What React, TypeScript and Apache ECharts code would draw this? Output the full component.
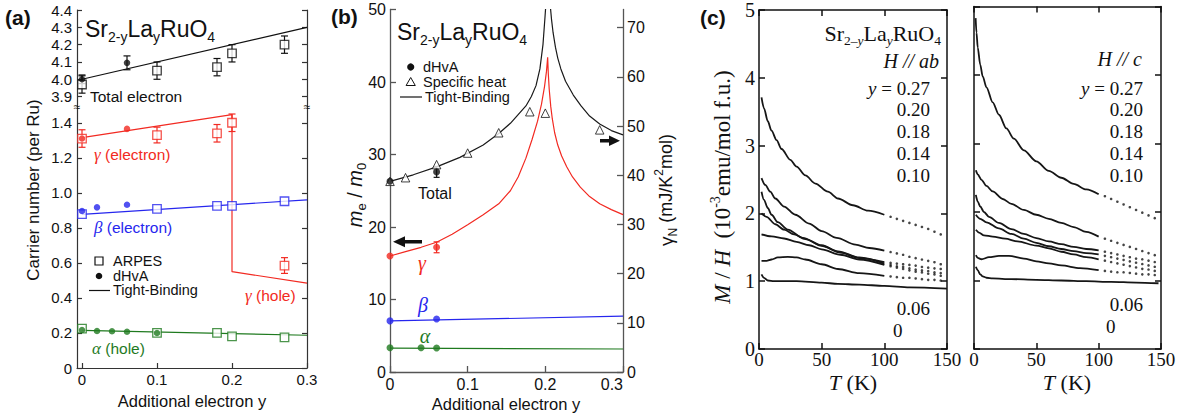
import React, { useEffect, useRef } from "react";
import * as echarts from "echarts";

const SANS = "'Liberation Sans', Arial, Helvetica, sans-serif";
const SERIF = "'Liberation Serif', 'Times New Roman', serif";
const RED = "#f22a22";
const BLUE = "#2626ee";
const GREEN = "#1f7a1f";
const INK = "#111";

// ---------- Panel (a): carrier number ----------
const aArpesX = [0, 0.1, 0.18, 0.2, 0.27];
const aTotalArpes = [3.97, 4.05, 4.07, 4.15, 4.2];
const aTotalArpesErr = [0.05, 0.05, 0.05, 0.05, 0.05];
const aTotalDhvaX = [0, 0.06];
const aTotalDhva = [4.0, 4.095];
const aTotalDhvaErr = [0.025, 0.04];
const aTotalTB = [[0, 4.0], [0.3, 4.3]];
const aGammaArpes = [1.31, 1.33, 1.34, 1.4, 0.585];
const aGammaArpesErr = [0.05, 0.045, 0.05, 0.05, 0.045];
const aGammaDhvaX = [0, 0.06];
const aGammaDhva = [1.31, 1.365];
const aGammaTB = [[0, 1.315], [0.2, 1.447], [0.2, 0.55], [0.3, 0.485]];
const aBetaArpes = [0.879, 0.908, 0.925, 0.925, 0.952];
const aBetaDhvaX = [0, 0.02, 0.06];
const aBetaDhva = [0.896, 0.917, 0.932];
const aBetaTB = [[0, 0.877], [0.3, 0.96]];
const aAlphaArpes = [0.225, 0.2, 0.2, 0.18, 0.175];
const aAlphaDhvaX = [0, 0.02, 0.04, 0.06, 0.1];
const aAlphaDhva = [0.217, 0.211, 0.21, 0.207, 0.2];
const aAlphaTB = [[0, 0.215], [0.3, 0.187]];
const aTicksX = [0, 0.1, 0.2, 0.3];
const aTicksUpper = [3.9, 4.0, 4.1, 4.2, 4.3, 4.4];
const aTicksLower = [0, 0.2, 0.4, 0.6, 0.8, 1.0, 1.2, 1.4];

// ---------- Panel (b): effective mass ----------
const bTBTotal = [[0, 26.3], [0.03, 27.2], [0.06, 28.3], [0.09, 29.6], [0.12, 31.3], [0.14, 32.9], [0.155, 34.3], [0.165, 35.5], [0.175, 36.7], [0.182, 38], [0.188, 39.5], [0.193, 41.8], [0.197, 45.2], [0.1996, 49], [0.2015, 52], [0.2035, 56], [0.2055, 52], [0.2068, 50], [0.208, 48.6], [0.21, 46.8], [0.213, 44.8], [0.216, 43.3], [0.22, 41.8], [0.226, 40.1], [0.236, 38.2], [0.246, 36.7], [0.257, 35.3], [0.27, 34.2], [0.285, 33.3], [0.3, 32.7]];
const bTBGamma = [[0, 16], [0.02, 16.6], [0.04, 17.2], [0.06, 17.9], [0.08, 19.0], [0.1, 20.3], [0.12, 21.7], [0.14, 23.2], [0.155, 25], [0.165, 26.9], [0.175, 29.5], [0.183, 32.1], [0.19, 34.6], [0.195, 36.9], [0.199, 39.4], [0.2015, 41.5], [0.203, 43.4], [0.2038, 41.2], [0.205, 39], [0.207, 36.6], [0.209, 34.9], [0.212, 33], [0.216, 31.3], [0.221, 29.8], [0.2275, 28.3], [0.235, 26.9], [0.245, 25.5], [0.257, 24.2], [0.27, 23.2], [0.285, 22.4], [0.3, 21.7]];
const bTBBeta = [[0, 7.05], [0.3, 7.7]];
const bTBAlpha = [[0, 3.3], [0.3, 3.17]];
const bShX = [0, 0.02, 0.06, 0.1, 0.14, 0.18, 0.2, 0.27];
const bShMass = [26.3, 26.8, 28.6, 30.2, 33.0, 35.9, 35.7, 33.4];
const bDhvaTotalX = [0, 0.06];
const bDhvaTotal = [26.3, 27.6];
const bDhvaTotalErr = [0, 0.75];
const bDhvaGammaX = [0, 0.06];
const bDhvaGamma = [16, 17.2];
const bDhvaGammaErr = [0, 0.75];
const bDhvaBetaX = [0, 0.06];
const bDhvaBeta = [7.05, 7.3];
const bDhvaAlphaX = [0, 0.04, 0.06];
const bDhvaAlpha = [3.35, 3.35, 3.3];
const bTicksX = [0, 0.1, 0.2, 0.3];
const bTicksMass = [0, 10, 20, 30, 40, 50];
const bTicksGamma = [0, 10, 20, 30, 40, 50, 60, 70];

// ---------- Panel (c): susceptibility, H // ab ----------
const ab027 = [[2, 3.71], [4, 3.55], [7, 3.36], [10, 3.22], [14, 3.08], [18, 2.95], [25, 2.79], [30, 2.69], [37, 2.56], [45, 2.44], [55, 2.32], [63, 2.22], [75, 2.12], [87, 2.04], [100, 1.98]];
const ab027Dots = [[105, 1.95], [110, 1.92], [115, 1.89], [120, 1.86], [125, 1.83], [130, 1.8], [135, 1.77], [140, 1.73], [145, 1.69]];
const ab020 = [[2, 2.52], [5, 2.42], [9, 2.32], [13, 2.22], [20, 2.1], [29, 1.98], [40, 1.85], [50, 1.74], [62, 1.64], [77, 1.54], [88, 1.49], [100, 1.45]];
const ab020Dots = [[105, 1.43], [110, 1.41], [115, 1.39], [120, 1.36], [125, 1.34], [130, 1.32], [135, 1.3], [140, 1.28], [145, 1.25]];
const ab018 = [[2, 2.32], [4, 2.2], [7, 2.08], [10, 1.98], [15, 1.87], [23, 1.76], [35, 1.64], [50, 1.53], [65, 1.42], [80, 1.34], [100, 1.28]];
const ab018Dots = [[105, 1.27], [110, 1.26], [115, 1.25], [120, 1.24], [125, 1.23], [130, 1.21], [135, 1.2], [140, 1.19], [145, 1.18]];
const ab014 = [[2, 2.0], [6, 1.95], [13, 1.84], [20, 1.76], [28, 1.69], [37, 1.62], [50, 1.52], [63, 1.44], [80, 1.35], [100, 1.26]];
const ab014Dots = [[105, 1.24], [110, 1.22], [115, 1.21], [120, 1.19], [125, 1.17], [130, 1.16], [135, 1.15], [140, 1.13], [145, 1.12]];
const ab010 = [[2, 1.69], [10, 1.66], [20, 1.63], [30, 1.58], [40, 1.53], [50, 1.47], [65, 1.39], [80, 1.32], [100, 1.24]];
const ab010Dots = [[105, 1.22], [110, 1.2], [115, 1.18], [120, 1.16], [125, 1.14], [130, 1.13], [135, 1.11], [140, 1.1], [145, 1.08]];
const ab006 = [[2, 1.3], [6, 1.3], [10, 1.32], [15, 1.35], [23, 1.36], [30, 1.35], [37, 1.32], [50, 1.25], [63, 1.18], [80, 1.12], [100, 1.08]];
const ab006Dots = [[105, 1.07], [110, 1.06], [115, 1.05], [120, 1.05], [125, 1.04], [130, 1.03], [135, 1.02], [140, 1.02], [145, 1.01]];
const ab000 = [[2, 1.1], [4, 1.05], [7, 1.01], [12, 1.0], [30, 1.0], [50, 0.98], [63, 0.96], [80, 0.95], [100, 0.93], [120, 0.91], [150, 0.89]];

// ---------- Panel (c): susceptibility, H // c ----------
const c027 = [[1.3, 4.83], [2, 4.62], [3, 4.4], [5, 4.15], [7, 3.98], [10, 3.82], [15, 3.6], [20, 3.42], [26, 3.22], [32, 3.07], [40, 2.9], [50, 2.74], [60, 2.6], [70, 2.5], [80, 2.41], [90, 2.33], [100, 2.26]];
const c027Dots = [[105, 2.23], [110, 2.19], [115, 2.15], [120, 2.11], [125, 2.07], [130, 2.03], [135, 1.99], [140, 1.95], [145, 1.91]];
const c020 = [[1.5, 2.61], [3, 2.55], [6, 2.47], [10, 2.38], [15, 2.3], [23, 2.19], [30, 2.12], [40, 2.03], [50, 1.96], [60, 1.9], [70, 1.84], [80, 1.78], [90, 1.71], [100, 1.64]];
const c020Dots = [[105, 1.61], [110, 1.58], [115, 1.55], [120, 1.52], [125, 1.49], [130, 1.46], [135, 1.43], [140, 1.4], [145, 1.37]];
const c018 = [[1.5, 2.25], [3, 2.15], [5, 2.08], [8, 2.0], [12, 1.93], [20, 1.84], [30, 1.75], [40, 1.68], [50, 1.62], [60, 1.57], [70, 1.53], [80, 1.49], [90, 1.46], [100, 1.44]];
const c018Dots = [[105, 1.42], [110, 1.4], [115, 1.38], [120, 1.36], [125, 1.34], [130, 1.32], [135, 1.31], [140, 1.29], [145, 1.27]];
const c014 = [[1.5, 1.96], [5, 1.9], [10, 1.85], [20, 1.76], [30, 1.68], [40, 1.61], [50, 1.55], [60, 1.5], [70, 1.46], [80, 1.43], [90, 1.4], [100, 1.38]];
const c014Dots = [[105, 1.36], [110, 1.34], [115, 1.32], [120, 1.3], [125, 1.28], [130, 1.26], [135, 1.24], [140, 1.22], [145, 1.2]];
const c010 = [[1.5, 1.74], [4, 1.7], [8, 1.66], [15, 1.64], [25, 1.61], [35, 1.57], [50, 1.51], [60, 1.47], [70, 1.42], [80, 1.38], [90, 1.34], [100, 1.31]];
const c010Dots = [[105, 1.29], [110, 1.27], [115, 1.25], [120, 1.23], [125, 1.21], [130, 1.19], [135, 1.17], [140, 1.16], [145, 1.14]];
const c006 = [[1.5, 1.37], [3, 1.33], [6, 1.31], [12, 1.34], [20, 1.36], [28, 1.36], [40, 1.32], [50, 1.28], [60, 1.25], [70, 1.22], [85, 1.18], [100, 1.15]];
const c006Dots = [[105, 1.14], [110, 1.13], [115, 1.12], [120, 1.12], [125, 1.11], [130, 1.1], [135, 1.09], [140, 1.09], [145, 1.08]];
const c000 = [[1.5, 1.2], [3, 1.15], [5, 1.09], [7, 1.06], [10, 1.04], [15, 1.03], [30, 1.02], [50, 1.01], [70, 1.0], [90, 0.99], [110, 0.98], [130, 0.97], [148, 0.96]];
const cTicksT = [0, 50, 100, 150];
const cTicksM = [0, 1, 2, 3, 4, 5];
const cLabelsY = ["0.20", "0.18", "0.14", "0.10"];

const abCurves = [ab027, ab020, ab018, ab014, ab010, ab006, ab000];
const abDots = [ab027Dots, ab020Dots, ab018Dots, ab014Dots, ab010Dots, ab006Dots];
const cCurves = [c027, c020, c018, c014, c010, c006, c000];
const cDots = [c027Dots, c020Dots, c018Dots, c014Dots, c010Dots, c006Dots];

// ---------- helpers ----------
const fmt1 = (v: number) => (Math.abs(v) < 1e-9 ? "0" : v.toFixed(1));
const fmtInt = (v: number) => String(Math.round(v));
const pts = (xs: number[], ys: number[]) => xs.map((x, i) => [x, ys[i]]);

function axis(o: any) {
  return {
    type: "value",
    gridIndex: o.grid,
    min: o.min,
    max: o.max,
    position: o.pos,
    show: o.show !== false,
    splitLine: { show: false },
    axisLine: { show: true, onZero: false, lineStyle: { color: o.color, width: o.width } },
    axisTick: { show: true, inside: true, length: o.tickLen, customValues: o.ticks, lineStyle: { color: o.color, width: o.width } },
    axisLabel: {
      show: !!o.labels,
      customValues: o.ticks,
      formatter: o.fmt,
      color: "#111",
      fontFamily: o.font,
      fontSize: o.fontSize,
      lineHeight: o.lineHeight,
      margin: o.margin ?? 6,
      showMinLabel: true,
      showMaxLabel: true,
      alignMaxLabel: o.alignMax,
    },
    silent: true,
  };
}

function lineS(data: number[][], xi: number, yi: number, color: string, width = 1.2, smooth: any = false) {
  return {
    type: "line", xAxisIndex: xi, yAxisIndex: yi, data, symbol: "none", silent: true, z: 2,
    smooth, smoothMonotone: smooth ? "x" : undefined,
    lineStyle: { color, width },
  };
}
function squares(xs: number[], ys: number[], xi: number, yi: number, color: string) {
  return {
    type: "scatter", xAxisIndex: xi, yAxisIndex: yi, data: pts(xs, ys), symbol: "rect", symbolSize: 8.5,
    itemStyle: { color: "#fff", borderColor: color, borderWidth: 1.3 }, silent: true, clip: false, z: 4,
  };
}
function dots(data: number[][], xi: number, yi: number, color: string, size = 6.5, z = 5) {
  return {
    type: "scatter", xAxisIndex: xi, yAxisIndex: yi, data, symbol: "circle", symbolSize: size,
    itemStyle: { color }, silent: true, clip: false, z,
  };
}
function triangles(xs: number[], ys: number[], xi: number, yi: number) {
  return {
    type: "scatter", xAxisIndex: xi, yAxisIndex: yi, data: pts(xs, ys), symbol: "triangle", symbolSize: 8.5,
    itemStyle: { color: "#fff", borderColor: INK, borderWidth: 1 }, silent: true, clip: false, z: 4,
  };
}
function errBars(xs: number[], ys: number[], es: number[], xi: number, yi: number, color: string, cap = 3.5) {
  const data = xs.map((x, i) => [x, ys[i] - es[i], ys[i] + es[i]]).filter((_, i) => es[i] > 0);
  return {
    type: "custom", xAxisIndex: xi, yAxisIndex: yi, silent: true, clip: false, z: 3,
    data,
    encode: { x: 0, y: [1, 2] },
    renderItem: (_p: any, api: any) => {
      const x = api.value(0);
      const lo = api.coord([x, api.value(1)]);
      const hi = api.coord([x, api.value(2)]);
      const st = { stroke: color, lineWidth: 1.2, fill: "none" };
      return {
        type: "group",
        children: [
          { type: "line", shape: { x1: lo[0], y1: lo[1], x2: hi[0], y2: hi[1] }, style: st },
          { type: "line", shape: { x1: lo[0] - cap, y1: lo[1], x2: lo[0] + cap, y2: lo[1] }, style: st },
          { type: "line", shape: { x1: hi[0] - cap, y1: hi[1], x2: hi[0] + cap, y2: hi[1] }, style: st },
        ],
      };
    },
  };
}

function txt(x: number, y: number, text: string, o: any = {}) {
  return {
    type: "text", x, y, rotation: o.rot || 0, silent: true, z: 100,
    style: {
      text,
      fill: o.fill || INK,
      fontSize: o.size || 15,
      fontFamily: o.font || SANS,
      fontStyle: o.italic ? "italic" : "normal",
      fontWeight: o.bold ? "bold" : "normal",
      lineHeight: o.lh,
      align: o.align || "left",
      verticalAlign: "middle",
      rich: o.rich,
    },
  };
}

const richSrSans = {
  m: { fontSize: 23, fontFamily: SANS, lineHeight: 30, fill: INK },
  s: { fontSize: 14, fontFamily: SANS, verticalAlign: "bottom", fill: INK },
};
const richSrSerif = {
  m: { fontSize: 22, fontFamily: SERIF, lineHeight: 28, fill: INK },
  s: { fontSize: 13.5, fontFamily: SERIF, verticalAlign: "bottom", fill: INK },
  si: { fontSize: 13.5, fontFamily: SERIF, fontStyle: "italic", verticalAlign: "bottom", fill: INK },
};
const greekRich = (color: string) => ({
  g: { fontSize: 17, fontFamily: SERIF, fontStyle: "italic", fill: color, lineHeight: 20 },
  t: { fontSize: 15.5, fontFamily: SANS, fill: color, lineHeight: 20 },
});
const COL_SIZE = 19;
const COL_STEP = 21.8;
const yRich = {
  i: { fontSize: COL_SIZE, fontFamily: SERIF, fontStyle: "italic", fill: INK, lineHeight: 20 },
  t: { fontSize: COL_SIZE, fontFamily: SERIF, fill: INK, lineHeight: 20 },
};
const tkRich = {
  i: { fontSize: 22, fontFamily: SERIF, fontStyle: "italic", fill: INK, lineHeight: 22 },
  t: { fontSize: 22, fontFamily: SERIF, fill: INK, lineHeight: 22 },
};
const numOpts = { size: COL_SIZE, font: SERIF, align: "right", lh: 20 };

// ---------- graphic (annotations) ----------
const graphics: any[] = [
  // panel (a)
  txt(5, 17, "(a)", { size: 21, bold: true }),
  txt(85, 29, "{m|Sr}{s|2-y}{m|La}{s|y}{m|RuO}{s|4}", { rich: richSrSans }),
  txt(90, 96, "Total electron", { size: 15.5 }),
  txt(94, 154, "{g|γ}{t| (electron)}", { rich: greekRich(RED) }),
  txt(94, 227, "{g|β}{t| (electron)}", { rich: greekRich(BLUE) }),
  txt(245, 295, "{g|γ}{t| (hole)}", { rich: greekRich(RED) }),
  txt(92, 348, "{g|α}{t| (hole)}", { rich: greekRich(GREEN) }),
  { type: "rect", shape: { x: 95, y: 257, width: 8, height: 8 }, style: { fill: "#fff", stroke: INK, lineWidth: 1.2 }, z: 100, silent: true },
  txt(113, 261, "ARPES", { size: 14.5 }),
  { type: "circle", shape: { cx: 99, cy: 276, r: 3.3 }, style: { fill: INK }, z: 100, silent: true },
  txt(113, 276, "dHvA", { size: 14.5 }),
  { type: "line", shape: { x1: 89, y1: 290.5, x2: 110, y2: 290.5 }, style: { stroke: INK, lineWidth: 1.2 }, z: 100, silent: true },
  txt(113, 290, "Tight-Binding", { size: 14.5 }),
  txt(33, 190, "Carrier number (per Ru)", { size: 17, align: "center", rot: Math.PI / 2 }),
  txt(192, 401, "Additional electron y", { size: 16.5, align: "center" }),
  txt(77, 107, "≈", { size: 12, align: "center" }),
  txt(307, 107, "≈", { size: 12, align: "center" }),

  // panel (b)
  txt(331, 16, "(b)", { size: 21, bold: true }),
  txt(397, 32, "{m|Sr}{s|2-y}{m|La}{s|y}{m|RuO}{s|4}", { rich: richSrSans }),
  { type: "circle", shape: { cx: 410.7, cy: 67, r: 3.6 }, style: { fill: INK }, z: 100, silent: true },
  txt(423, 67, "dHvA", { size: 14.5 }),
  { type: "polygon", shape: { points: [[410.7, 77.5], [415.3, 85.5], [406.1, 85.5]] }, style: { fill: "#fff", stroke: INK, lineWidth: 1 }, z: 100, silent: true },
  txt(423, 82, "Specific heat", { size: 14.5 }),
  { type: "line", shape: { x1: 400, y1: 97, x2: 422, y2: 97 }, style: { stroke: INK, lineWidth: 1.2 }, z: 100, silent: true },
  txt(425, 97, "Tight-Binding", { size: 14.5 }),
  txt(418, 193, "Total", { size: 16 }),
  txt(422, 263, "γ", { size: 20, font: SERIF, italic: true, fill: RED, align: "center" }),
  txt(423, 305, "β", { size: 20, font: SERIF, italic: true, fill: BLUE, align: "center" }),
  txt(425, 336, "α", { size: 20, font: SERIF, italic: true, fill: GREEN, align: "center" }),
  { type: "polygon", shape: { points: [[393, 241.7], [405, 236.2], [405, 239.9], [422, 239.9], [422, 243.5], [405, 243.5], [405, 247.2]] }, style: { fill: INK }, z: 100, silent: true },
  { type: "polygon", shape: { points: [[620, 140.7], [609, 135.5], [609, 139], [600, 139], [600, 142.4], [609, 142.4], [609, 146]] }, style: { fill: INK }, z: 100, silent: true },
  txt(355, 195, "{i|m}{s|e}{t| / }{i|m}{s|0}", {
    align: "center", rot: Math.PI / 2,
    rich: {
      i: { fontSize: 20, fontFamily: SANS, fontStyle: "italic", fill: INK, lineHeight: 26 },
      t: { fontSize: 20, fontFamily: SANS, fill: INK, lineHeight: 26 },
      s: { fontSize: 13, fontFamily: SANS, verticalAlign: "bottom", fill: INK },
    },
  }),
  txt(666, 190, "{g|γ}{s|N}{t| (mJ/K}{p|2}{t|mol)}", {
    align: "center", rot: Math.PI / 2,
    rich: {
      g: { fontSize: 19, fontFamily: SANS, fill: INK, lineHeight: 26 },
      t: { fontSize: 18, fontFamily: SANS, fill: INK, lineHeight: 26 },
      s: { fontSize: 12, fontFamily: SANS, verticalAlign: "bottom", fill: INK },
      p: { fontSize: 12, fontFamily: SANS, verticalAlign: "top", fill: INK },
    },
  }),
  txt(506, 404, "Additional electron y", { size: 16.5, align: "center" }),

  // panel (c)
  txt(700, 17, "(c)", { size: 21, bold: true }),
  txt(941, 33, "{m|Sr}{s|2–}{si|y}{m|La}{si|y}{m|RuO}{s|4}", { align: "right", rich: richSrSerif }),
  txt(939, 61, "H // ab", { size: 20, font: SERIF, italic: true, align: "right", lh: 20 }),
  txt(930, 88, "{i|y}{t| = 0.27}", { align: "right", rich: yRich }),
  ...cLabelsY.map((s, i) => txt(930, 88 + (i + 1) * COL_STEP, s, numOpts)),
  txt(930, 308, "0.06", numOpts),
  txt(893, 330, "0", { size: COL_SIZE, font: SERIF, lh: 20 }),
  txt(1142, 59, "H // c", { size: 20, font: SERIF, italic: true, align: "right", lh: 20 }),
  txt(1143, 88, "{i|y}{t| = 0.27}", { align: "right", rich: yRich }),
  ...cLabelsY.map((s, i) => txt(1143, 88 + (i + 1) * COL_STEP, s, numOpts)),
  txt(1143, 304, "0.06", numOpts),
  txt(1106, 326, "0", { size: COL_SIZE, font: SERIF, lh: 20 }),
  txt(853, 382, "{i|T}{t| (K)}", { align: "center", rich: tkRich }),
  txt(1067, 382, "{i|T}{t| (K)}", { align: "center", rich: tkRich }),
  txt(722, 187, "{i|M}{t| / }{i|H}{t|  (10}{p|-3}{t|emu/mol f.u.)}", {
    align: "center", rot: Math.PI / 2,
    rich: {
      i: { fontSize: 23, fontFamily: SERIF, fontStyle: "italic", fill: INK, lineHeight: 28 },
      t: { fontSize: 23, fontFamily: SERIF, fill: INK, lineHeight: 28 },
      p: { fontSize: 14, fontFamily: SERIF, verticalAlign: "top", fill: INK },
    },
  }),
];

// ---------- axes ----------
const A_COL = "#333";
const B_COL = "#555";
const C_COL = "#111";
const xAxes = [
  axis({ grid: 0, min: -0.00667, max: 0.3, ticks: aTicksX, color: A_COL, width: 1.2, tickLen: 5, show: false }),
  axis({ grid: 1, min: -0.00667, max: 0.3, ticks: aTicksX, labels: true, fmt: fmt1, color: A_COL, width: 1.2, tickLen: 5, font: SANS, fontSize: 15, margin: 4 }),
  axis({ grid: 2, min: 0, max: 0.3, ticks: bTicksX, labels: true, fmt: fmt1, color: B_COL, width: 1.3, tickLen: 6, font: SANS, fontSize: 16, lineHeight: 16, margin: 4, alignMax: "right" }),
  axis({ grid: 3, min: 0, max: 150, ticks: cTicksT, labels: true, fmt: fmtInt, color: C_COL, width: 1.5, tickLen: 6, font: SERIF, fontSize: 19, lineHeight: 18, margin: 1 }),
  axis({ grid: 3, min: 0, max: 150, pos: "top", ticks: cTicksT, color: C_COL, width: 1.5, tickLen: 6 }),
  axis({ grid: 4, min: 0, max: 150, ticks: cTicksT, labels: true, fmt: fmtInt, color: C_COL, width: 1.5, tickLen: 6, font: SERIF, fontSize: 19, lineHeight: 18, margin: 1 }),
  axis({ grid: 4, min: 0, max: 150, pos: "top", ticks: cTicksT, color: C_COL, width: 1.5, tickLen: 6 }),
];
const yAxes = [
  axis({ grid: 0, min: 3.84, max: 4.4, ticks: aTicksUpper, labels: true, fmt: fmt1, color: A_COL, width: 1.2, tickLen: 5, font: SANS, fontSize: 15, margin: 5 }),
  axis({ grid: 0, min: 3.84, max: 4.4, pos: "right", ticks: aTicksUpper, color: A_COL, width: 1.2, tickLen: 5 }),
  axis({ grid: 1, min: 0, max: 1.49, ticks: aTicksLower, labels: true, fmt: fmt1, color: A_COL, width: 1.2, tickLen: 5, font: SANS, fontSize: 15, margin: 5 }),
  axis({ grid: 1, min: 0, max: 1.49, pos: "right", ticks: aTicksLower, color: A_COL, width: 1.2, tickLen: 5 }),
  axis({ grid: 2, min: 0, max: 50, ticks: bTicksMass, labels: true, fmt: fmtInt, color: B_COL, width: 1.3, tickLen: 6, font: SANS, fontSize: 16, margin: 4 }),
  axis({ grid: 2, min: 0, max: 73.7, pos: "right", ticks: bTicksGamma, labels: true, fmt: fmtInt, color: B_COL, width: 1.3, tickLen: 6, font: SANS, fontSize: 16, lineHeight: 14, margin: 4 }),
  axis({ grid: 3, min: 0, max: 5, ticks: cTicksM, labels: true, fmt: fmtInt, color: C_COL, width: 1.5, tickLen: 6, font: SERIF, fontSize: 20, margin: 4 }),
  axis({ grid: 3, min: 0, max: 5, pos: "right", ticks: cTicksM, color: C_COL, width: 1.5, tickLen: 6 }),
  axis({ grid: 4, min: 0, max: 5, ticks: cTicksM, color: C_COL, width: 1.5, tickLen: 6 }),
  axis({ grid: 4, min: 0, max: 5, pos: "right", ticks: cTicksM, color: C_COL, width: 1.5, tickLen: 6 }),
];

// ---------- series ----------
const series: any[] = [
  // (a) upper: total electron
  lineS(aTotalTB, 0, 0, INK),
  errBars(aArpesX, aTotalArpes, aTotalArpesErr, 0, 0, INK),
  errBars(aTotalDhvaX, aTotalDhva, aTotalDhvaErr, 0, 0, INK),
  squares(aArpesX, aTotalArpes, 0, 0, INK),
  dots(pts(aTotalDhvaX, aTotalDhva), 0, 0, INK),
  // (a) lower
  lineS(aGammaTB, 1, 2, RED),
  lineS(aBetaTB, 1, 2, BLUE),
  lineS(aAlphaTB, 1, 2, GREEN),
  errBars(aArpesX, aGammaArpes, aGammaArpesErr, 1, 2, RED),
  squares(aArpesX, aGammaArpes, 1, 2, RED),
  squares(aArpesX, aBetaArpes, 1, 2, BLUE),
  squares(aArpesX, aAlphaArpes, 1, 2, GREEN),
  dots(pts(aGammaDhvaX, aGammaDhva), 1, 2, RED),
  dots(pts(aBetaDhvaX, aBetaDhva), 1, 2, BLUE),
  dots(pts(aAlphaDhvaX, aAlphaDhva), 1, 2, GREEN),
  // (b)
  lineS(bTBTotal, 2, 4, "#1a1a1a", 1.2),
  lineS(bTBGamma, 2, 4, RED, 1.2),
  lineS(bTBBeta, 2, 4, BLUE, 1.2),
  lineS(bTBAlpha, 2, 4, GREEN, 1.2),
  triangles(bShX, bShMass, 2, 4),
  errBars(bDhvaTotalX, bDhvaTotal, bDhvaTotalErr, 2, 4, INK, 3),
  errBars(bDhvaGammaX, bDhvaGamma, bDhvaGammaErr, 2, 4, RED, 3),
  dots(pts(bDhvaTotalX, bDhvaTotal), 2, 4, INK, 7),
  dots(pts(bDhvaGammaX, bDhvaGamma), 2, 4, RED, 7),
  dots(pts(bDhvaBetaX, bDhvaBeta), 2, 4, BLUE, 7),
  dots(pts(bDhvaAlphaX, bDhvaAlpha), 2, 4, GREEN, 7),
  // (c) H // ab
  ...abCurves.map((d) => lineS(d, 3, 6, "#161616", 1.8, 0.3)),
  ...abDots.map((d) => dots(d, 3, 6, "#161616", 2.6, 3)),
  // (c) H // c
  ...cCurves.map((d) => lineS(d, 5, 8, "#161616", 1.8, 0.3)),
  ...cDots.map((d) => dots(d, 5, 8, "#161616", 2.6, 3)),
];

const option: any = {
  animation: false,
  backgroundColor: "#fff",
  grid: [
    { left: 77, top: 10, width: 230, height: 97 },
    { left: 77, top: 107, width: 230, height: 261 },
    { left: 390, top: 9.5, width: 233, height: 362.5 },
    { left: 759, top: 6.5, width: 188, height: 342.5 },
    { left: 974, top: 6.5, width: 187, height: 342.5 },
  ],
  xAxis: xAxes,
  yAxis: yAxes,
  series,
  graphic: { elements: graphics },
};

export default function App() {
  const ref = useRef<HTMLDivElement>(null);
  useEffect(() => {
    document.body.style.margin = "0";
    const chart = echarts.init(ref.current!, null, { renderer: "svg" });
    chart.setOption(option);
    return () => chart.dispose();
  }, []);
  return (
    <div
      ref={ref}
      style={{ position: "absolute", left: 0, top: 0, width: 1192, height: 413, background: "#fff" }}
    />
  );
}
